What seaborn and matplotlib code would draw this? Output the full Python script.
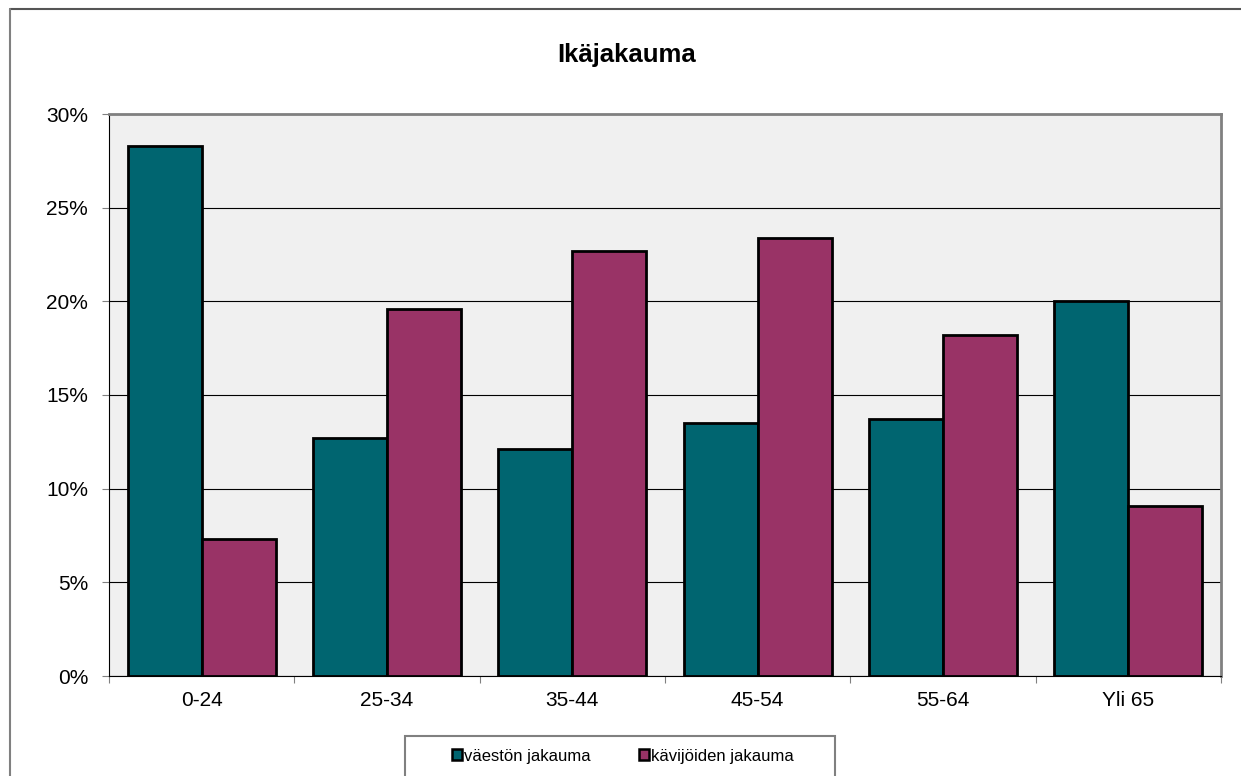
import pandas as pd
import matplotlib.pyplot as plt
import seaborn as sns
from matplotlib.ticker import PercentFormatter, FixedLocator
from matplotlib.patches import Rectangle
from matplotlib.lines import Line2D

## data
age_groups = ['0-24', '25-34', '35-44', '45-54', '55-64', 'Yli 65']
population = [28.3, 12.7, 12.1, 13.5, 13.7, 20.0]
visitors = [7.3, 19.6, 22.7, 23.4, 18.2, 9.1]
series_names = ['väestön jakauma', 'kävijöiden jakauma']

teal = '#006570'
maroon = '#993366'

df = pd.DataFrame({
    'ika': age_groups * 2,
    'osuus': population + visitors,
    'sarja': [series_names[0]] * len(age_groups) + [series_names[1]] * len(age_groups),
})

sns.set_style('white')
plt.rcParams['font.family'] = ['Liberation Sans', 'DejaVu Sans']
plt.rcParams['text.color'] = 'black'
plt.rcParams['xtick.labelcolor'] = 'black'
plt.rcParams['ytick.labelcolor'] = 'black'

fig = plt.figure(figsize=(12.41, 7.76), dpi=100)
ax = fig.add_axes([109 / 1241, 1 - 676 / 776, (1221 - 109) / 1241, (676 - 114) / 776])
ax.set_facecolor('#f0f0f0')

sns.barplot(data=df, x='ika', y='osuus', hue='sarja', order=age_groups,
            hue_order=series_names, palette=[teal, maroon], width=0.8,
            edgecolor='black', linewidth=2.0, saturation=1, ax=ax, legend=False)

ax.set_xlim(-0.5, len(age_groups) - 0.5)
ax.set_ylim(0, 30)
ax.yaxis.set_major_locator(FixedLocator([0, 5, 10, 15, 20, 25, 30]))
ax.yaxis.set_major_formatter(PercentFormatter(decimals=0))
ax.set_axisbelow(True)
ax.grid(axis='y', color='black', linewidth=0.8)
ax.grid(axis='x', visible=False)

ax.set_xlabel('')
ax.set_ylabel('')
ax.tick_params(axis='both', labelsize=15, labelcolor='black')
ax.tick_params(axis='y', left=True, length=5, width=0.8, color='#808080', pad=10)
ax.tick_params(axis='x', which='major', bottom=False, pad=7)
ax.xaxis.set_minor_locator(FixedLocator([i - 0.5 for i in range(len(age_groups) + 1)]))
ax.tick_params(axis='x', which='minor', bottom=True, length=5, width=0.8, color='#808080')

for side in ['top', 'right']:
    ax.spines[side].set_color('#808080')
    ax.spines[side].set_linewidth(2)
for side in ['left', 'bottom']:
    ax.spines[side].set_color('black')
    ax.spines[side].set_linewidth(0.8)

fig.text(627 / 1241, 1 - 55 / 776, 'Ikäjakauma', ha='center', va='center',
         fontsize=18.5, fontweight='bold', color='black')

# outer chart border (only top and left visible)
fig.add_artist(Line2D([10 / 1241, 1], [1 - 9 / 776, 1 - 9 / 776], color='#555555', linewidth=1.5))
fig.add_artist(Line2D([10 / 1241, 10 / 1241], [0, 1 - 9 / 776], color='#808080', linewidth=1.5))

# legend box running off the bottom edge
fig.add_artist(Rectangle((405 / 1241, -0.05), (835 - 405) / 1241, 0.05 + (776 - 736) / 776,
                         transform=fig.transFigure, facecolor='white',
                         edgecolor='#808080', linewidth=1.5))
handles = [Rectangle((0, 0), 1, 1, facecolor=c, edgecolor='black', linewidth=1.8)
           for c in [teal, maroon]]
leg = fig.legend(handles, series_names, loc='center', bbox_to_anchor=(623 / 1241, 1 - 756 / 776),
                 ncol=2, frameon=False, fontsize=12, handlelength=0.6, handleheight=0.6,
                 handletextpad=0.1, columnspacing=2.9)
for t in leg.get_texts():
    t.set_color('black')

fig.savefig('out.png', dpi=100)
